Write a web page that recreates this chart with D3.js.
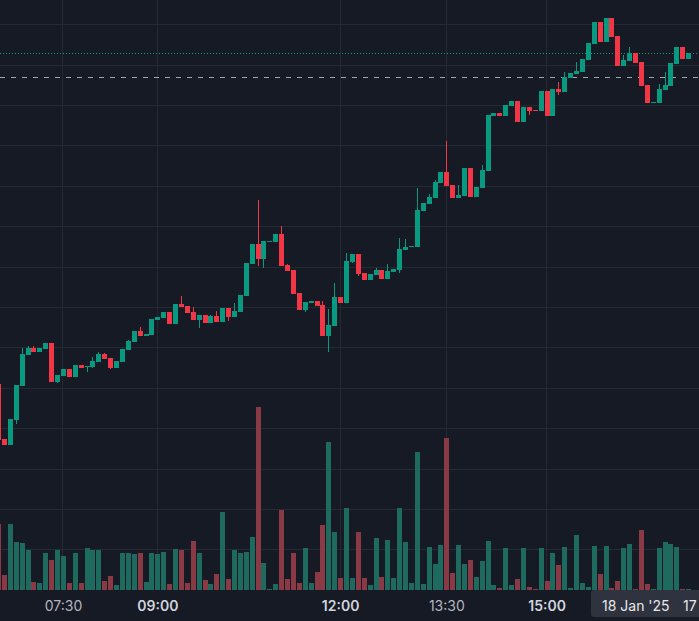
<!DOCTYPE html>
<html>
<head>
<meta charset="utf-8">
<script src="https://cdnjs.cloudflare.com/ajax/libs/d3/7.8.5/d3.min.js"></script>
<style>
body { margin: 0; background: #161a25; overflow: hidden; }
</style>
</head>
<body>
<script>

// bar values (one bar per index)
var opens  = [1164,1109,1103,1128,1162,1192,1199,1195,1198,1204,1166,1172,1179,1171,1183,1181.5,1181,1186,1193,1189,
              1180,1186,1197,1205,1216,1211,1212,1227,1229,1235,1223,1243,1241,1235,1227,1232,1224,1231,1225,1239,
              1230,1235,1251,1283,1302,1288,1304,1304,1312,1282,1277,1254,1237,1244,1246,1242,1211,1221,1250,1244,
              1285,1292,1274,1267,1272,1277,1268,1275,1277,1296,1299,1299,1335,1342,1348,1363,1374,1361,1348,1350,
              1378,1349,1358,1375,1429,1432,1429,1439,1444,1423,1438,1435,1434,1454,1429,1456,1453,1467,1471,1473,
              1485,1500,1522,1502,1526,1508,1479,1484,1492,1483,1460,1442.8,1442,1455,1459,1481,1498,1486];
var highs  = [1164,1109,1129,1163,1199,1201,1201,1199,1204,1204,1173,1179,1179,1183,1183,1182,1190,1195,1194,1189,
              1187,1198,1207,1216,1220,1213,1228,1230,1235,1235,1243,1251,1241,1240,1232,1232,1232,1236,1239,1239,
              1244,1252,1284,1302,1346,1305,1305,1312,1320,1283,1277,1254,1245,1246,1246,1246,1238,1264,1250,1293,
              1292,1292,1274,1273,1279,1277,1283,1278,1308,1307,1300,1358,1343,1352,1366,1374,1404,1361,1361,1378,
              1378,1359,1381,1430,1432,1432,1440,1444,1444,1438,1438,1435,1454,1454,1456,1463,1473,1472,1483,1486,
              1501,1522,1522,1526,1526,1508,1490,1498,1492,1483,1460,1443.2,1461,1473,1482,1498,1498,1492];
var lows   = [1108,1103,1103,1124,1162,1192,1195,1195,1198,1166,1165,1172,1171,1171,1180,1176,1180,1186,1188,1179,
              1180,1186,1197,1205,1211,1211,1212,1227,1229,1223,1223,1240,1234,1227,1219,1224,1224,1225,1225,1226,
              1230,1235,1251,1283,1281,1279,1304,1304,1281,1276,1253,1237,1235,1244,1241,1211,1195,1221,1244,1244,
              1284,1271,1267,1267,1272,1268,1268,1275,1274,1296,1299,1299,1335,1342,1348,1363,1360,1348,1348,1350,
              1349,1349,1358,1375,1429,1429,1429,1439,1423,1423,1430,1434,1434,1429,1429,1450,1453,1467,1471,1473,
              1485,1500,1502,1502,1507,1479,1479,1484,1482,1459,1442,1442.8,1442,1455,1459,1481,1486,1486];
var closes = [1108,1103,1129,1163,1193,1199,1195,1199,1204,1166,1173,1179,1171,1183,1180,1182,1187,1193,1188,1180,
              1187,1198,1206,1216,1211,1213,1228,1230,1235,1223,1243,1240,1234,1227,1232,1224,1231,1225,1239,1230,
              1236,1252,1284,1302,1288,1305,1305,1312,1281,1276,1253,1237,1245,1246,1241,1211,1222,1250,1244,1286,
              1292,1273,1267,1273,1277,1268,1276,1278,1297,1299,1300,1336,1343,1349,1364,1374,1360,1348,1351,1378,
              1349,1359,1376,1430,1432,1429,1440,1444,1423,1438,1434,1434,1454,1429,1456,1453,1468,1472,1474,1486,
              1501,1522,1502,1526,1507,1479,1485,1492,1482,1459,1442,1443.2,1456,1460,1482,1498,1486,1492];
var volumes = [660,150,660,480,470,400,80,70,370,300,400,340,70,370,70,420,400,400,90,140,
               50,370,370,360,370,80,370,360,380,60,410,400,70,490,370,100,60,160,780,110,
               400,370,380,530,1830,270,10,60,800,110,370,70,420,70,180,650,1480,580,120,820,
               120,580,120,50,520,130,500,120,820,480,70,1380,60,430,260,450,1520,170,450,260,
               300,130,290,490,50,20,420,50,110,420,30,10,420,90,370,250,430,20,550,70,
               30,440,160,440,20,90,420,460,10,600,60,10,420,480,460,430,10,10];

// time axis labels and the bar each one sits on
var tickBars   = [11, 27, 58, 76, 93];
var tickLabels = ["07:30", "09:00", "12:00", "13:30", "15:00"];
var tickBold   = [false, true, true, false, true];

var priceGrid = d3.range(1000, 1521, 40);
var refPrice = 1468;               // dashed line
var crossLabel = ["18 Jan '25", "17"];

var w = 699, h = 621;
var up = "#089981", down = "#f23645";
var volUp = "#1e6a5f", volDown = "#8a3a45";

var svg = d3.select("body").append("svg")
    .attr("width", w)
    .attr("height", h);

svg.append("rect").attr("width", w).attr("height", h).attr("fill", "#161a25");

var n = closes.length;
var x = d3.scaleLinear().domain([0, n - 1]).range([-1.4, 688.6]);
var y = d3.scaleLinear().domain([1000, 1520]).range([549.3, 24.3]);
var yv = d3.scaleLinear().domain([0, 2000]).range([590, 390]);

var bars = d3.range(n).map(function(i) {
    return { i: i, o: opens[i], h: highs[i], l: lows[i], c: closes[i], v: volumes[i] };
});

// grid
var grid = svg.append("g").attr("shape-rendering", "crispEdges");
grid.selectAll(".hg").data(priceGrid).enter().append("line")
    .attr("x1", 0).attr("x2", w)
    .attr("y1", function(d) { return Math.round(y(d)) + 0.5; })
    .attr("y2", function(d) { return Math.round(y(d)) + 0.5; })
    .attr("stroke", "#252934");
grid.selectAll(".vg").data(tickBars).enter().append("line")
    .attr("x1", function(d) { return Math.round(x(d)) - 0.5; })
    .attr("x2", function(d) { return Math.round(x(d)) - 0.5; })
    .attr("y1", 0).attr("y2", 590)
    .attr("stroke", "#252934");

// volume
svg.append("g").attr("shape-rendering", "crispEdges")
  .selectAll("rect").data(bars).enter().append("rect")
    .attr("x", function(d) { return Math.round(x(d.i) - 2.5); })
    .attr("width", 5)
    .attr("y", function(d) { return yv(d.v); })
    .attr("height", function(d) { return yv(0) - yv(d.v); })
    .attr("fill", function(d) { return d.c >= d.o ? volUp : volDown; });

// price lines
svg.append("line")
    .attr("x1", 0).attr("x2", w)
    .attr("y1", Math.round(y(refPrice)) + 0.5).attr("y2", Math.round(y(refPrice)) + 0.5)
    .attr("stroke", "#a3a6af").attr("stroke-dasharray", "5,6");
svg.append("line")
    .attr("x1", 0).attr("x2", w)
    .attr("y1", Math.round(y(closes[n - 1])) + 0.5).attr("y2", Math.round(y(closes[n - 1])) + 0.5)
    .attr("stroke", up).attr("stroke-dasharray", "1,2");

// candles
var cg = svg.append("g").attr("shape-rendering", "crispEdges");
cg.selectAll(".wick").data(bars).enter().append("rect")
    .attr("x", function(d) { return Math.round(x(d.i) - 2.5) + 2; })
    .attr("width", 1)
    .attr("y", function(d) { return Math.round(y(d.h)); })
    .attr("height", function(d) { return Math.max(1, Math.round(y(d.l)) - Math.round(y(d.h))); })
    .attr("fill", function(d) { return d.c >= d.o ? up : down; });
cg.selectAll(".body").data(bars).enter().append("rect")
    .attr("x", function(d) { return Math.round(x(d.i) - 2.5); })
    .attr("width", 5)
    .attr("y", function(d) { return Math.round(y(Math.max(d.o, d.c))); })
    .attr("height", function(d) {
        return Math.max(1, Math.round(y(Math.min(d.o, d.c))) - Math.round(y(Math.max(d.o, d.c))));
    })
    .attr("fill", function(d) { return d.c >= d.o ? up : down; });

// time axis
svg.selectAll(".tick").data(tickBars).enter().append("text")
    .attr("x", function(d) { return x(d); })
    .attr("y", 611)
    .attr("text-anchor", "middle")
    .attr("font-family", "Inter, Roboto, sans-serif")
    .attr("font-size", 14)
    .attr("font-weight", function(d, i) { return tickBold[i] ? 600 : 400; })
    .attr("fill", function(d, i) { return tickBold[i] ? "#d1d4dc" : "#b2b5be"; })
    .text(function(d, i) { return tickLabels[i]; });

// crosshair time label
svg.append("rect")
    .attr("x", 591).attr("y", 590).attr("width", 140).attr("height", 27)
    .attr("rx", 3).attr("fill", "#2f333f");
svg.append("text")
    .attr("x", 602).attr("y", 611)
    .attr("font-family", "Inter, Roboto, sans-serif")
    .attr("font-size", 14)
    .attr("fill", "#e6e7ea")
    .text(crossLabel[0]);
svg.append("text")
    .attr("x", 683).attr("y", 611)
    .attr("font-family", "Inter, Roboto, sans-serif")
    .attr("font-size", 14)
    .attr("fill", "#e6e7ea")
    .text(crossLabel[1]);

</script>
</body>
</html>
